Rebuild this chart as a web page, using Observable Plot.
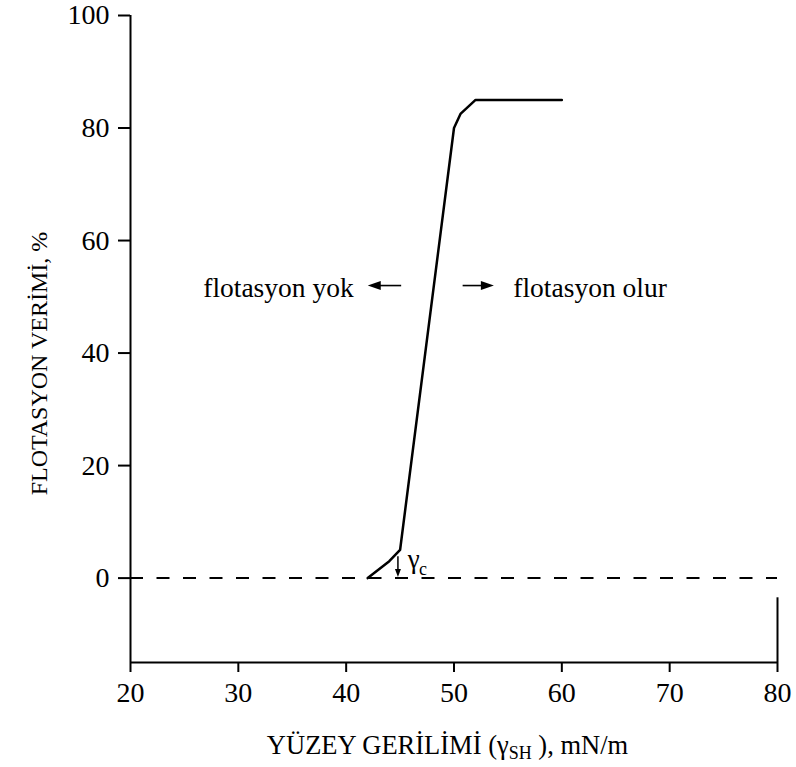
<!DOCTYPE html>
<html>
<head>
<meta charset="utf-8">
<script src="https://cdn.jsdelivr.net/npm/d3@7"></script>
<script src="https://cdn.jsdelivr.net/npm/@observablehq/plot@0.6"></script>
<style>
  html, body { margin: 0; padding: 0; background: #fff; }
</style>
</head>
<body>
<div id="chart"></div>
<script>
// Axis ticks
const xTicks = [20, 30, 40, 50, 60, 70, 80];
const yTicks = [0, 20, 40, 60, 80, 100];

// Flotation recovery (%) against surface tension (mN/m)
const surfaceTension = [42, 44, 45, 50, 50.6, 52, 60];
const recovery       = [0, 3, 5, 80, 82.5, 85, 85];

// Region annotations
const regionLabels = ["flotasyon yok", "flotasyon olur"];
const regionLabelX = [40.7, 55.5];
const regionLabelY = 51.5;
const regionArrowFrom = [45.1, 50.8];
const regionArrowTo   = [42.0, 53.7];
const regionArrowY = 52;

// Critical surface tension marker
const criticalX = 44.8;
const criticalArrowTop = 3.9;
const criticalArrowTip = 0.2;

const curve = surfaceTension.map((x, i) => ({x, y: recovery[i]}));
const regions = regionLabels.map((label, i) => ({
  label, x: regionLabelX[i], from: regionArrowFrom[i], to: regionArrowTo[i]
}));

// Filled arrowhead with its tip at the anchor point
function arrowHead(dx, dy, len, half) {
  return {
    draw(ctx) {
      const px = -dy, py = dx;
      ctx.moveTo(0, 0);
      ctx.lineTo(-dx * len + px * half, -dy * len + py * half);
      ctx.lineTo(-dx * len - px * half, -dy * len - py * half);
      ctx.closePath();
    }
  };
}

const font = "Liberation Serif";

const chart = Plot.plot({
  width: 796,
  height: 767,
  marginLeft: 130,
  marginRight: 19,
  marginTop: 15,
  marginBottom: 105,
  style: {fontFamily: font, fontSize: "27px", color: "black", background: "white", overflow: "visible"},
  x: {domain: [20, 80], label: null},
  y: {domain: [-15, 100], label: null},
  marks: [
    Plot.axisX({ticks: xTicks, tickSize: 10, tickPadding: 10, strokeWidth: 2, label: null, fontSize: 28}),
    Plot.axisY({ticks: yTicks, tickSize: 12, tickPadding: 9, strokeWidth: 2, label: null, fontSize: 28}),
    Plot.ruleX([20], {y1: -15, y2: 100, strokeWidth: 2}),
    Plot.ruleY([-15], {x1: 20, x2: 80, strokeWidth: 2}),
    Plot.ruleX([80], {y1: -15, y2: -3.5, strokeWidth: 2}),
    Plot.ruleY([0], {x1: 20, x2: 80, strokeWidth: 2, strokeDasharray: "13,13.5"}),
    Plot.line(curve, {x: "x", y: "y", stroke: "black", strokeWidth: 2.5, strokeLinejoin: "miter"}),

    // region labels and arrows
    Plot.text(regions.slice(0, 1), {x: "x", y: () => regionLabelY, text: "label", textAnchor: "end", fontSize: 27.5}),
    Plot.text(regions.slice(1), {x: "x", y: () => regionLabelY, text: "label", textAnchor: "start", fontSize: 27.5}),
    Plot.link(regions, {x1: "from", x2: (d, i) => d.to + (i === 0 ? 0.8 : -0.8), y1: () => regionArrowY, y2: () => regionArrowY, strokeWidth: 1.6}),
    Plot.dot(regions.slice(0, 1), {x: "to", y: () => regionArrowY, symbol: arrowHead(-1, 0, 13, 4.5), r: 4, fill: "black", stroke: "none"}),
    Plot.dot(regions.slice(1), {x: "to", y: () => regionArrowY, symbol: arrowHead(1, 0, 13, 4.5), r: 4, fill: "black", stroke: "none"}),

    // critical surface tension
    Plot.link([criticalX], {x1: d => d, x2: d => d, y1: () => criticalArrowTop, y2: () => criticalArrowTip + 1, strokeWidth: 1.5}),
    Plot.dot([criticalX], {x: d => d, y: () => criticalArrowTip, symbol: arrowHead(0, 1, 8, 3), r: 3, fill: "black", stroke: "none"}),
    Plot.text(["γ"], {x: () => 45.72, y: () => 3.4, text: d => d, textAnchor: "start", fontSize: 27}),
    Plot.text(["c"], {x: () => 46.75, y: () => 1.6, text: d => d, textAnchor: "start", fontSize: 18})
  ]
});

// Axis titles with subscripts
const svg = d3.select(chart);
const xs = chart.scale("x"), ys = chart.scale("y");
const cx = (xs.range[0] + xs.range[1]) / 2;
const cy = (ys.range[0] + ys.range[1]) / 2;

const xt = svg.append("text")
  .attr("x", cx - 6).attr("y", 754)
  .attr("text-anchor", "middle")
  .attr("font-size", 26.5).attr("fill", "black");
xt.append("tspan").text("YÜZEY GERİLİMİ (γ");
xt.append("tspan").attr("font-size", 18).attr("dy", 5).text("SH");
xt.append("tspan").attr("dy", -5).text(" ), mN/m");

svg.append("text")
  .attr("transform", `translate(47,${cy + 25}) rotate(-90)`)
  .attr("text-anchor", "middle")
  .attr("font-size", 24).attr("fill", "black")
  .text("FLOTASYON VERİMİ, %");

// Serif face for every label
svg.selectAll("text, tspan").style("font-family", font).attr("font-family", font);

document.getElementById("chart").appendChild(chart);
</script>
</body>
</html>
